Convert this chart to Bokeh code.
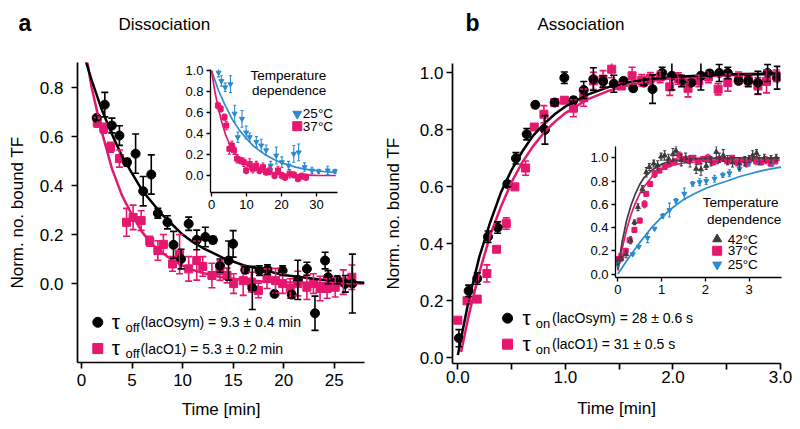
from bokeh.plotting import figure
from bokeh.models import (ColumnDataSource, Whisker, TeeHead, Label, FixedTicker,
                          PrintfTickFormatter, GridBox)
from bokeh.embed import file_html
from bokeh.resources import INLINE

# ---------------- data ----------------
# Panel a (dissociation), main plot
a_sym_t = [1.5, 2.3, 3.0, 3.75, 4.5, 5.35, 6.1, 6.9, 7.55, 8.5, 9.1, 9.85, 10.6, 11.4, 12.25, 13.0, 13.7,
           14.55, 15.0, 16.2, 16.9, 17.6, 18.4, 19.1, 19.9, 20.8, 21.4, 22.3, 23.1, 24.1, 24.4, 25.3, 26.1, 26.8]
a_sym_y = [0.676, 0.73, 0.645, 0.604, 0.495, 0.53, 0.377, 0.445, 0.287, 0.25, 0.158, 0.10, 0.244, 0.178, 0.19,
           0.178, 0.073, 0.094, 0.162, 0.056, -0.018, 0.053, 0.057, -0.042, 0.053, -0.045, 0.015, 0.06, -0.121,
           0.094, 0.026, 0.015, -0.001, 0.0]
a_sym_e = [0.01, 0.05, 0.03, 0.04, 0.015, 0.08, 0.06, 0.08, 0.02, 0.027, 0.055, 0.04, 0.027, 0.04, 0.04, 0.014,
           0.027, 0.08, 0.054, 0.014, 0.088, 0.02, 0.02, 0.01, 0.02, 0.014, 0.08, 0.027, 0.07, 0.034, 0.027, 0.016,
           0.034, 0.12]
a_o1_t = [1.55, 2.2, 2.87, 3.75, 4.45, 5.1, 5.9, 6.75, 7.55, 8.1, 9.0, 9.7, 10.6, 11.4, 12.0, 12.9, 13.7, 14.4,
          15.05, 16.0, 16.8, 17.5, 18.35, 19.2, 19.9, 20.65, 21.4, 22.3, 22.95, 23.6, 24.3, 25.1, 25.9, 26.75]
a_o1_y = [0.658, 0.634, 0.556, 0.51, 0.25, 0.27, 0.257, 0.173, 0.135, 0.16, 0.08, 0.12, 0.06, 0.094, 0.07, 0.033,
          0.053, 0.033, 0.0, 0.012, 0.006, -0.028, 0.02, 0.012, 0.0, -0.02, 0.0, -0.015, 0.0, -0.02, -0.02, -0.015,
          0.006, 0.026]
a_o1_e = [0.02, 0.02, 0.02, 0.035, 0.057, 0.05, 0.04, 0.02, 0.04, 0.04, 0.03, 0.08, 0.05, 0.08, 0.04, 0.05, 0.04,
          0.03, 0.04, 0.06, 0.04, 0.03, 0.04, 0.05, 0.04, 0.04, 0.05, 0.05, 0.04, 0.05, 0.04, 0.04, 0.05, 0.05]
a_sym_fit_t = [0, 0.4, 1, 2, 3, 4, 5, 6, 7, 8, 9, 10, 11, 12, 13, 14, 15, 16, 17, 18, 20, 22, 24, 26, 28]
a_sym_fit_y = [0.97, 0.91, 0.83, 0.71, 0.61, 0.52, 0.45, 0.38, 0.33, 0.28, 0.24, 0.20, 0.17, 0.145, 0.125, 0.105,
               0.09, 0.075, 0.065, 0.055, 0.035, 0.025, 0.015, 0.008, 0.003]
a_o1_fit_t = [0, 0.5, 1, 2, 3, 4, 5, 6, 7, 8, 9, 10, 11, 12, 14, 16, 18, 20, 24, 28]
a_o1_fit_y = [1.05, 0.92, 0.80, 0.62, 0.47, 0.36, 0.28, 0.21, 0.16, 0.125, 0.095, 0.073, 0.056, 0.043, 0.025,
              0.015, 0.008, 0.005, 0.002, 0.0]

# Panel a inset (temperature dependence)
ia_25_t = [2.0, 2.8, 3.9, 5.4, 6.6, 7.5, 8.7, 9.9, 10.9, 12.8, 14.2, 15.6, 16.9, 18.5, 20.1, 22.0, 23.5, 24.9,
           26.6, 28.7, 30.6, 33.2, 35.3]
ia_25_y = [0.98, 0.9, 0.84, 0.87, 0.59, 0.365, 0.54, 0.41, 0.365, 0.32, 0.286, 0.24, 0.095, 0.19, 0.127, 0.095,
           0.206, 0.22, 0.08, 0.048, 0.04, 0.048, 0.04]
ia_25_e = [0.04, 0.05, 0.04, 0.08, 0.08, 0.05, 0.08, 0.06, 0.04, 0.05, 0.06, 0.05, 0.04, 0.08, 0.05, 0.04, 0.08,
           0.08, 0.04, 0.03, 0.02, 0.04, 0.02]
ia_37_t = [1.8, 2.6, 3.7, 4.2, 5.1, 5.8, 6.4, 7.3, 8.3, 9.2, 9.9, 10.9, 11.8, 12.8, 13.7, 14.7, 15.6, 16.6, 18.0,
           19.0, 20.1, 21.0, 22.3, 23.5, 24.7, 25.8, 27.0]
ia_37_y = [0.667, 0.635, 0.556, 0.476, 0.254, 0.286, 0.24, 0.16, 0.143, 0.127, 0.048, 0.11, 0.064, 0.095, 0.048,
           0.079, 0.032, 0.048, 0.0, 0.048, 0.0, -0.016, 0.016, 0.006, -0.03, -0.006, -0.016]
ia_37_e = [0.03, 0.03, 0.03, 0.04, 0.05, 0.04, 0.04, 0.04, 0.03, 0.04, 0.03, 0.05, 0.04, 0.04, 0.03, 0.04, 0.03,
           0.04, 0.03, 0.04, 0.03, 0.03, 0.04, 0.03, 0.03, 0.03, 0.03]
ia_25_fit_t = [0, 2, 4, 6, 8, 10, 12, 14, 16, 18, 20, 22, 24, 26, 28, 30, 32, 35.5]
ia_25_fit_y = [1.0, 0.81, 0.66, 0.53, 0.43, 0.35, 0.28, 0.23, 0.185, 0.15, 0.12, 0.10, 0.08, 0.065, 0.053, 0.045,
               0.038, 0.03]
ia_37_fit_t = [0, 1, 2, 3, 4, 5, 6, 7, 8, 10, 12, 14, 17, 20, 25, 30, 35.5]
ia_37_fit_y = [1.0, 0.79, 0.63, 0.50, 0.39, 0.31, 0.25, 0.20, 0.155, 0.10, 0.06, 0.04, 0.02, 0.01, 0.005, 0.002, 0.0]

# Panel b (association), main plot
b_sym_t = [0.01, 0.1, 0.18, 0.28, 0.37, 0.46, 0.54, 0.64, 0.72, 0.81, 0.9, 0.99, 1.075, 1.17, 1.26, 1.35, 1.45,
           1.54, 1.63, 1.73, 1.81, 1.9, 1.99, 2.08, 2.17, 2.26, 2.34, 2.43, 2.51, 2.61, 2.7, 2.79, 2.88, 2.97]
b_sym_y = [0.069, 0.235, 0.278, 0.425, 0.457, 0.61, 0.70, 0.785, 0.888, 0.80, 0.896, 0.983, 0.904, 0.94, 0.978,
           0.97, 0.962, 0.972, 0.946, 0.966, 0.943, 1.0, 0.99, 0.972, 0.966, 0.99, 0.998, 1.0, 1.0, 0.972, 0.972,
           0.966, 1.0, 0.983]
b_sym_e = [0.03, 0.02, 0.02, 0.02, 0.02, 0.01, 0.02, 0.02, 0.01, 0.05, 0.01, 0.02, 0.01, 0.03, 0.04, 0.02, 0.03,
           0.01, 0.01, 0.01, 0.05, 0.02, 0.05, 0.02, 0.01, 0.05, 0.01, 0.03, 0.02, 0.01, 0.02, 0.04, 0.03, 0.04]
b_o1_t = [0.0, 0.085, 0.18, 0.27, 0.36, 0.45, 0.53, 0.63, 0.71, 0.8, 0.9, 0.99, 1.075, 1.17, 1.26, 1.35, 1.43,
          1.52, 1.62, 1.71, 1.79, 1.88, 1.97, 2.05, 2.14, 2.24, 2.33, 2.42, 2.51, 2.61, 2.7, 2.79, 2.87, 2.96]
b_o1_y = [0.132, 0.2, 0.206, 0.296, 0.381, 0.471, 0.60, 0.666, 0.81, 0.855, 0.896, 0.904, 0.876, 0.913, 0.972,
          0.978, 1.013, 0.954, 0.99, 0.974, 0.981, 0.986, 0.951, 0.98, 0.946, 0.972, 0.986, 0.943, 0.966, 0.983,
          0.974, 0.954, 0.97, 0.99]
b_o1_e = [0.005, 0.005, 0.005, 0.03, 0.005, 0.02, 0.005, 0.025, 0.005, 0.03, 0.01, 0.01, 0.03, 0.03, 0.03, 0.03,
          0.03, 0.01, 0.03, 0.02, 0.02, 0.02, 0.03, 0.02, 0.03, 0.02, 0.02, 0.02, 0.03, 0.02, 0.02, 0.03, 0.04, 0.02]
b_sym_fit_t = [0, 0.02, 0.1, 0.2, 0.3, 0.4, 0.5, 0.6, 0.7, 0.8, 0.9, 1.0, 1.2, 1.4, 1.6, 1.8, 2.0, 2.5, 3.0]
b_sym_fit_y = [0.01, 0.05, 0.20, 0.355, 0.475, 0.58, 0.66, 0.725, 0.78, 0.82, 0.855, 0.882, 0.923, 0.95, 0.968,
               0.979, 0.986, 0.995, 0.998]
b_o1_fit_t = [0.03, 0.1, 0.2, 0.3, 0.4, 0.5, 0.6, 0.7, 0.8, 0.9, 1.0, 1.2, 1.4, 1.6, 1.8, 2.0, 2.5, 3.0]
b_o1_fit_y = [0.02, 0.148, 0.30, 0.43, 0.53, 0.617, 0.687, 0.743, 0.79, 0.828, 0.859, 0.906, 0.937, 0.958, 0.972,
              0.981, 0.992, 0.996]

# Panel b inset (temperature dependence)
ib_42_t = [0.0, 0.08, 0.19, 0.29, 0.38, 0.46, 0.56, 0.65, 0.72, 0.82, 0.91, 0.99, 1.07, 1.16, 1.26, 1.33, 1.45,
           1.55, 1.65, 1.79, 1.9, 2.02, 2.13, 2.25, 2.32, 2.41, 2.51, 2.62, 2.78, 2.9, 3.0, 3.08, 3.17, 3.23, 3.35,
           3.5, 3.62]
ib_42_y = [0.11, 0.13, 0.17, 0.29, 0.445, 0.575, 0.73, 0.875, 0.92, 0.95, 0.935, 1.01, 1.02, 0.99, 1.03, 1.06,
           0.98, 1.0, 0.97, 0.905, 0.9, 0.93, 0.97, 1.05, 1.0, 1.02, 0.98, 0.96, 0.95, 0.97, 0.99, 1.02, 1.04, 0.98,
           1.0, 0.99, 1.0]
ib_42_e = [0.03, 0.02, 0.03, 0.03, 0.02, 0.03, 0.03, 0.04, 0.03, 0.03, 0.04, 0.03, 0.04, 0.04, 0.05, 0.04, 0.05,
           0.04, 0.05, 0.04, 0.05, 0.03, 0.04, 0.05, 0.04, 0.05, 0.04, 0.04, 0.05, 0.04, 0.03, 0.04, 0.03, 0.04,
           0.03, 0.03, 0.03]
ib_37_t = [0.0, 0.08, 0.18, 0.27, 0.38, 0.5, 0.61, 0.65, 0.74, 0.84, 0.95, 1.07, 1.18, 1.3, 1.41, 1.52, 1.62,
           1.73, 1.84, 1.95, 2.06, 2.17, 2.28, 2.39, 2.5, 2.61, 2.72, 2.83, 2.94, 3.05, 3.16, 3.27, 3.38, 3.49, 3.6]
ib_37_y = [0.13, 0.155, 0.2, 0.29, 0.38, 0.46, 0.6, 0.69, 0.775, 0.86, 0.89, 0.92, 0.95, 0.97, 1.02, 0.99, 0.98,
           1.0, 0.97, 0.99, 1.0, 0.96, 0.98, 0.99, 0.97, 1.0, 0.96, 0.98, 0.95, 0.99, 0.97, 0.96, 0.98, 0.95, 0.97]
ib_37_e = [0.02, 0.02, 0.02, 0.02, 0.02, 0.02, 0.03, 0.02, 0.02, 0.03, 0.02, 0.02, 0.03, 0.02, 0.03, 0.02, 0.03,
           0.02, 0.03, 0.02, 0.03, 0.02, 0.03, 0.02, 0.03, 0.02, 0.03, 0.02, 0.03, 0.02, 0.03, 0.02, 0.03, 0.02, 0.02]
ib_25_t = [0.0, 0.34, 0.48, 0.68, 0.84, 1.03, 1.18, 1.33, 1.52, 1.71, 1.87, 2.02, 2.21, 2.4, 2.55, 2.78, 3.0,
           3.23, 3.54]
ib_25_y = [0.08, 0.17, 0.235, 0.31, 0.39, 0.50, 0.55, 0.63, 0.69, 0.776, 0.79, 0.80, 0.82, 0.85, 0.867, 0.905,
           0.95, 0.962, 0.95]
ib_25_e = [0.02, 0.01, 0.01, 0.04, 0.01, 0.02, 0.06, 0.02, 0.05, 0.02, 0.03, 0.03, 0.03, 0.02, 0.03, 0.02, 0.02,
           0.02, 0.02]
ib_42_fit_t = [0, 0.1, 0.2, 0.3, 0.4, 0.5, 0.6, 0.8, 1.0, 1.2, 1.5, 2.0, 2.5, 3.0, 3.7]
ib_42_fit_y = [0.04, 0.28, 0.46, 0.59, 0.69, 0.77, 0.83, 0.90, 0.945, 0.97, 0.985, 0.995, 1.0, 1.0, 1.0]
ib_37_fit_t = [0, 0.1, 0.2, 0.3, 0.4, 0.5, 0.6, 0.8, 1.0, 1.2, 1.5, 2.0, 2.5, 3.0, 3.7]
ib_37_fit_y = [0.03, 0.22, 0.38, 0.51, 0.61, 0.69, 0.75, 0.845, 0.9, 0.93, 0.955, 0.97, 0.975, 0.978, 0.98]
ib_25_fit_t = [0, 0.25, 0.5, 0.75, 1.0, 1.25, 1.5, 1.75, 2.0, 2.25, 2.5, 2.75, 3.0, 3.25, 3.5, 3.73]
ib_25_fit_y = [0.0, 0.14, 0.27, 0.39, 0.49, 0.57, 0.64, 0.69, 0.735, 0.77, 0.80, 0.835, 0.86, 0.885, 0.905, 0.92]

# ---------------- style ----------------
FONT = "Liberation Sans"
PINK = "#e6176f"
BLUE = "#2a8ccf"
GRAY = "#3c3c3c"
BLACK = "#000000"


def style_axes(p, font_px, tick_len, lw, xstand, ystand, xlab_stand, ylab_stand):
    for ax in (p.xaxis[0], p.yaxis[0]):
        ax.axis_line_width = lw
        ax.axis_line_color = BLACK
        ax.major_tick_line_width = lw
        ax.major_tick_line_color = BLACK
        ax.minor_tick_line_width = lw
        ax.minor_tick_line_color = BLACK
        ax.major_tick_out = tick_len
        ax.major_tick_in = 0
        ax.minor_tick_in = 0
        ax.minor_tick_out = 0
        ax.major_label_text_font = FONT
        ax.major_label_text_font_size = f"{font_px}px"
        ax.major_label_text_color = BLACK
        ax.axis_label_text_font = FONT
        ax.axis_label_text_font_style = "normal"
        ax.axis_label_text_font_size = f"{font_px}px"
        ax.axis_label_text_color = BLACK
    p.xaxis[0].major_label_standoff = xstand
    p.yaxis[0].major_label_standoff = ystand
    p.xaxis[0].axis_label_standoff = xlab_stand
    p.yaxis[0].axis_label_standoff = ylab_stand
    p.xgrid.visible = False
    p.ygrid.visible = False
    p.outline_line_color = None


def errbars(p, x, y, e, color, lw, cap):
    src = ColumnDataSource(dict(x=x, lo=[a - b for a, b in zip(y, e)], hi=[a + b for a, b in zip(y, e)]))
    w = Whisker(source=src, base="x", lower="lo", upper="hi", dimension="height",
                line_color=color, line_width=lw, level="glyph",
                upper_head=TeeHead(size=cap, line_color=color, line_width=lw),
                lower_head=TeeHead(size=cap, line_color=color, line_width=lw))
    p.add_layout(w)


def label(p, x, y, text, size, align="left", style="normal", yoff=0, color=BLACK):
    p.add_layout(Label(x=x, y=y, text=text, text_font=FONT, text_font_size=f"{size}px",
                       text_align=align, text_baseline="middle", text_font_style=style,
                       y_offset=yoff, text_color=color))


def make_fig(**kw):
    p = figure(output_backend="svg", toolbar_location=None, tools="", title=None, **kw)
    p.frame_align = False
    return p


# ---------------- panel a main ----------------
pa = make_fig(frame_width=287, frame_height=300, x_range=(-0.4, 28.0), y_range=(-0.322, 0.902),
              min_border_left=77, min_border_right=14, min_border_top=62, min_border_bottom=64,
              x_axis_label="Time [min]", y_axis_label="Norm. no. bound TF",
              background_fill_alpha=0, border_fill_alpha=0)
style_axes(pa, 17, 6, 1.7, 5, 8, 11, 10)
pa.xaxis[0].ticker = FixedTicker(ticks=[0, 5, 10, 15, 20, 25])
pa.yaxis[0].ticker = FixedTicker(ticks=[0.0, 0.2, 0.4, 0.6, 0.8])
pa.yaxis[0].formatter = PrintfTickFormatter(format="%.1f")

errbars(pa, a_o1_t, a_o1_y, a_o1_e, PINK, 1.6, 7)
pa.scatter(a_o1_t, a_o1_y, marker="square", size=8, color=PINK)
errbars(pa, a_sym_t, a_sym_y, a_sym_e, BLACK, 1.6, 7)
pa.scatter(a_sym_t, a_sym_y, marker="circle", size=9, color=BLACK)
pa.line(a_o1_fit_t, a_o1_fit_y, line_color=PINK, line_width=2.5)
pa.line(a_sym_fit_t, a_sym_fit_y, line_color=BLACK, line_width=2.5)

pa.scatter([1.61], [-0.158], marker="circle", size=10, color=BLACK)
pa.scatter([1.61], [-0.265], marker="square", size=10, color=PINK)
for yy, txt in ((-0.158, "(lacOsym) = 9.3 ± 0.4 min"), (-0.265, "(lacO1) = 5.3 ± 0.2 min")):
    label(pa, 3.0, yy, "τ", 21, yoff=1)
    label(pa, 4.35, yy, "off", 13, yoff=-5)
    label(pa, 5.83, yy, txt, 14)

# ---------------- panel a inset ----------------
ia = make_fig(frame_width=127, frame_height=123, x_range=(-0.3, 36.0), y_range=(-0.162, 1.01),
              min_border_left=31, min_border_right=40, min_border_top=5, min_border_bottom=24,
              background_fill_alpha=0, border_fill_alpha=0)
style_axes(ia, 13, 4, 1.3, 3, 3, 2, 2)
ia.xaxis[0].axis_label = None
ia.yaxis[0].axis_label = None
ia.xaxis[0].ticker = FixedTicker(ticks=[0, 10, 20, 30])
ia.yaxis[0].ticker = FixedTicker(ticks=[0.0, 0.2, 0.4, 0.6, 0.8, 1.0])
ia.yaxis[0].formatter = PrintfTickFormatter(format="%.1f")
errbars(ia, ia_25_t, ia_25_y, ia_25_e, BLUE, 1.1, 3)
ia.scatter(ia_25_t, ia_25_y, marker="inverted_triangle", size=5, color=BLUE)
errbars(ia, ia_37_t, ia_37_y, ia_37_e, PINK, 1.1, 3)
ia.scatter(ia_37_t, ia_37_y, marker="square", size=5, color=PINK)
ia.line(ia_25_fit_t, ia_25_fit_y, line_color=BLUE, line_width=1.7)
ia.line(ia_37_fit_t, ia_37_fit_y, line_color=PINK, line_width=1.7)
label(ia, 32.8, 0.952, "Temperature", 13.5, align="right")
label(ia, 32.8, 0.81, "dependence", 13.5, align="right")
ia.scatter([24.5], [0.587], marker="inverted_triangle", size=9, color=BLUE)
ia.scatter([24.5], [0.47], marker="square", size=9, color=PINK)
label(ia, 26.1, 0.587, "25°C", 13.5)
label(ia, 26.1, 0.47, "37°C", 13.5)

# ---------------- panel b main ----------------
pb = make_fig(frame_width=328, frame_height=300, x_range=(-0.05, 3.0), y_range=(-0.02, 1.033),
              min_border_left=74, min_border_right=14, min_border_top=63, min_border_bottom=63,
              x_axis_label="Time [min]", y_axis_label="Norm. no. bound TF",
              background_fill_alpha=0, border_fill_alpha=0)
style_axes(pb, 17, 6, 1.7, 1, 3, 13, 14)
pb.xaxis[0].ticker = FixedTicker(ticks=[0, 1, 2, 3], minor_ticks=[0.5, 1.5, 2.5])
pb.xaxis[0].minor_tick_out = 6
pb.xaxis[0].formatter = PrintfTickFormatter(format="%.1f")
pb.yaxis[0].ticker = FixedTicker(ticks=[0.0, 0.2, 0.4, 0.6, 0.8, 1.0])
pb.yaxis[0].formatter = PrintfTickFormatter(format="%.1f")

errbars(pb, b_o1_t, b_o1_y, b_o1_e, PINK, 1.6, 7)
pb.scatter(b_o1_t, b_o1_y, marker="square", size=8, color=PINK)
errbars(pb, b_sym_t, b_sym_y, b_sym_e, BLACK, 1.6, 7)
pb.scatter(b_sym_t, b_sym_y, marker="circle", size=9, color=BLACK)
pb.line(b_o1_fit_t, b_o1_fit_y, line_color=PINK, line_width=2.5)
pb.line(b_sym_fit_t, b_sym_fit_y, line_color=BLACK, line_width=2.5)

pb.scatter([0.462], [0.139], marker="circle", size=10, color=BLACK)
pb.scatter([0.462], [0.048], marker="square", size=10, color=PINK)
for yy, txt in ((0.139, "(lacOsym) = 28 ± 0.6 s"), (0.048, "(lacO1) = 31 ± 0.5 s")):
    label(pb, 0.60, yy, "τ", 21, yoff=1)
    label(pb, 0.725, yy, "on", 13, yoff=-5)
    label(pb, 0.875, yy, txt, 14)

# ---------------- panel b inset ----------------
ib = make_fig(frame_width=166, frame_height=131, x_range=(-0.053, 3.74), y_range=(-0.03, 1.097),
              min_border_left=32, min_border_right=4, min_border_top=6, min_border_bottom=24,
              background_fill_alpha=0, border_fill_alpha=0)
style_axes(ib, 13, 4, 1.3, 3, 3, 2, 2)
ib.xaxis[0].axis_label = None
ib.yaxis[0].axis_label = None
ib.xaxis[0].ticker = FixedTicker(ticks=[0, 1, 2, 3])
ib.yaxis[0].ticker = FixedTicker(ticks=[0.0, 0.2, 0.4, 0.6, 0.8, 1.0])
ib.yaxis[0].formatter = PrintfTickFormatter(format="%.1f")
errbars(ib, ib_25_t, ib_25_y, ib_25_e, BLUE, 1.1, 3)
ib.scatter(ib_25_t, ib_25_y, marker="inverted_triangle", size=5, color=BLUE)
errbars(ib, ib_37_t, ib_37_y, ib_37_e, PINK, 1.1, 3)
ib.scatter(ib_37_t, ib_37_y, marker="square", size=5, color=PINK)
errbars(ib, ib_42_t, ib_42_y, ib_42_e, GRAY, 1.1, 3)
ib.scatter(ib_42_t, ib_42_y, marker="triangle", size=5, color=GRAY)
ib.line(ib_25_fit_t, ib_25_fit_y, line_color=BLUE, line_width=1.7)
ib.line(ib_37_fit_t, ib_37_fit_y, line_color=PINK, line_width=1.7)
ib.line(ib_42_fit_t, ib_42_fit_y, line_color=GRAY, line_width=1.7)
label(ib, 3.67, 0.617, "Temperature", 13.5, align="right")
label(ib, 3.735, 0.466, "dependence", 13.5, align="right")
ib.scatter([2.27], [0.30], marker="triangle", size=9, color=GRAY)
ib.scatter([2.27], [0.20], marker="square", size=9, color=PINK)
ib.scatter([2.27], [0.08], marker="inverted_triangle", size=9, color=BLUE)
label(ib, 2.51, 0.30, "42°C", 13.5)
label(ib, 2.51, 0.20, "37°C", 13.5)
label(ib, 2.51, 0.08, "25°C", 13.5)

# ---------------- overlay for panel letters and titles (pixels) ----------------
ov = make_fig(frame_width=794, frame_height=426, x_range=(0, 794), y_range=(426, 0),
              min_border=0, x_axis_location=None, y_axis_location=None,
              background_fill_alpha=0, border_fill_alpha=0)
ov.outline_line_color = None
ov.xgrid.visible = False
ov.ygrid.visible = False
label(ov, 18, 22, "a", 23, style="bold")
label(ov, 118, 24, "Dissociation", 17)
label(ov, 465, 22, "b", 23, style="bold")
label(ov, 537, 24, "Association", 17)

# ---------------- layout (overlapping cells) ----------------
pa.margin = (0, 0, 0, 0)
pb.margin = (0, 0, 0, 378)
ia.margin = (64, 0, 0, 179)
ib.margin = (140, 0, 0, 583)
ov.margin = (0, 0, 0, 0)
grid = GridBox(children=[(pa, 0, 0), (pb, 0, 0), (ia, 0, 0), (ib, 0, 0), (ov, 0, 0)])

open("out.html", "w").write(file_html(grid, INLINE))
